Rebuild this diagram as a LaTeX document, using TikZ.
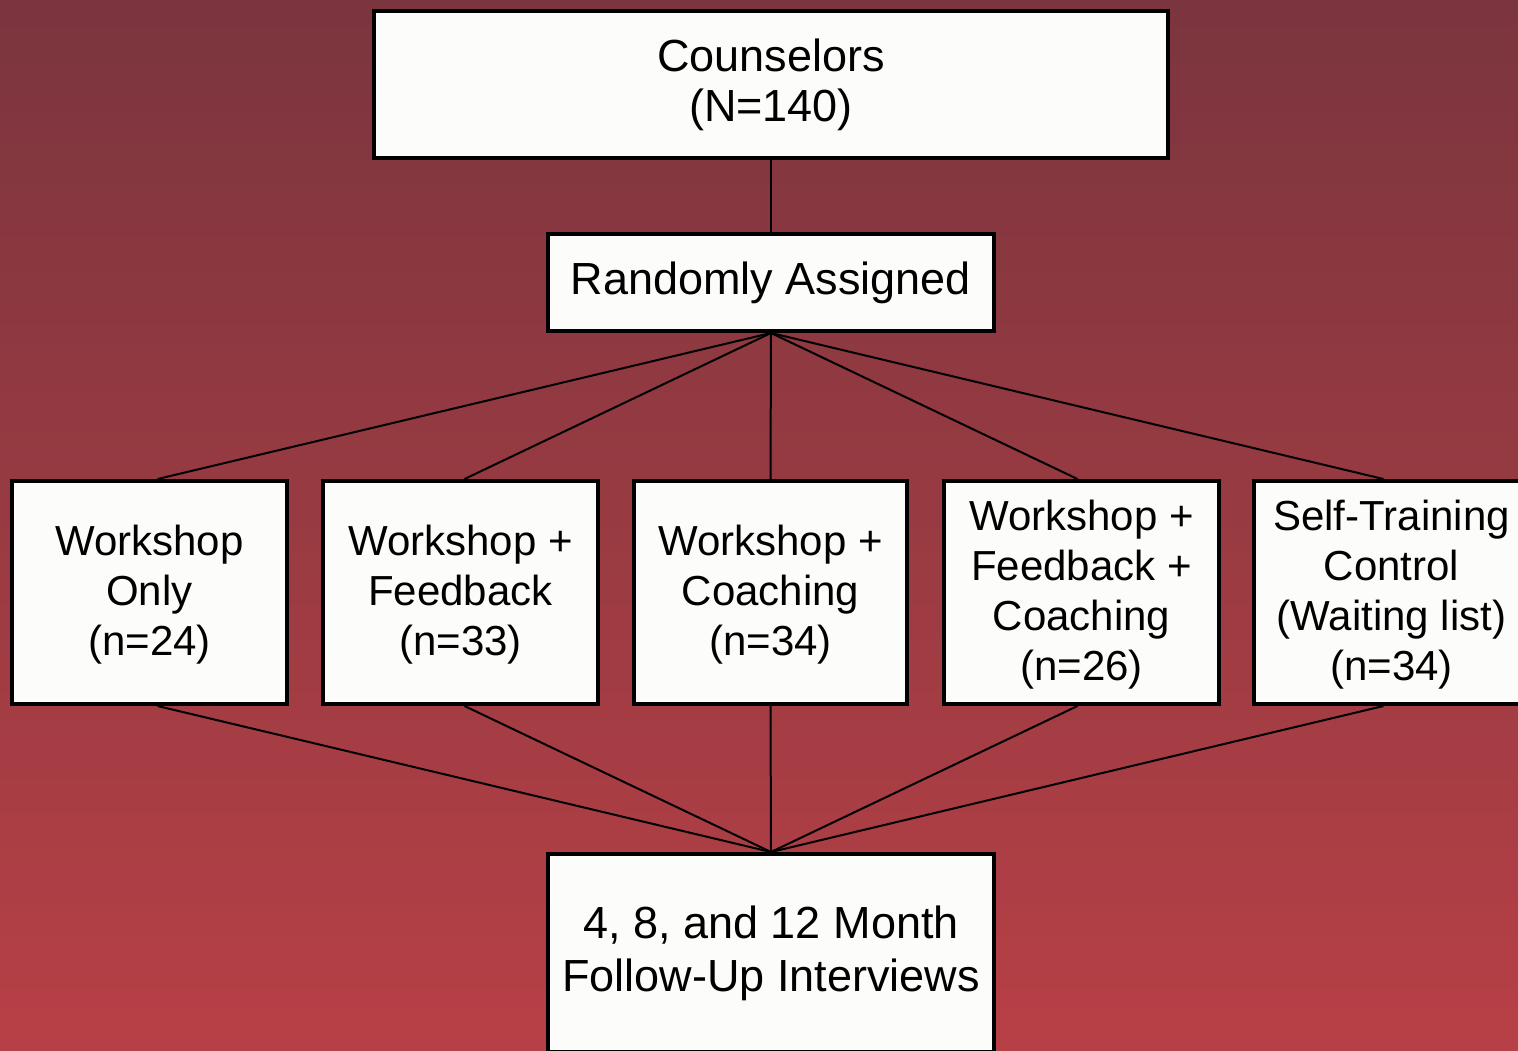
\documentclass[tikz,border=0pt]{standalone}
\usepackage{fontspec}
\setmainfont{Liberation Sans}
\usetikzlibrary{calc}
\definecolor{bgtop}{RGB}{123,53,62}
\definecolor{bgbot}{RGB}{183,64,70}
\definecolor{boxfill}{RGB}{252,252,250}
\newcommand{\firstup}{\rule{0pt}{35pt}}
\tikzset{
  box/.style={draw=black, line width=4pt, fill=boxfill, rectangle, inner sep=0pt,
    align=center, font=\fontsize{42pt}{50pt}\selectfont},
  bigbox/.style={box, font=\fontsize{45pt}{50pt}\selectfont},
  fubox/.style={box, font=\fontsize{45pt}{53pt}\selectfont},
  rowbox/.style={box, minimum width=275pt, minimum height=223pt},
  link/.style={draw=black, line width=2pt}
}
\begin{document}
\begin{tikzpicture}[x=1pt,y=-1pt]
\useasboundingbox (0,0) rectangle (1518,1050);
\clip (0,0) rectangle (1518,1050);
\shade[top color=bgtop, bottom color=bgbot] (0,0) rectangle (1518,1050);
\node[bigbox, minimum width=794pt, minimum height=147pt] (top) at (771,84.5) {Counselors\\(N=140)};
\node[bigbox, minimum width=446pt, minimum height=97pt] (rand) at (771,282.5) {Randomly Assigned};
\node[rowbox] (b1) at (149.5,592.5) {\firstup Workshop\\Only\\(n=24)};
\node[rowbox] (b2) at (460.5,592.5) {\firstup Workshop +\\Feedback\\(n=33)};
\node[rowbox, minimum width=273pt] (b3) at (770.5,592.5) {\firstup Workshop +\\Coaching\\(n=34)};
\node[rowbox] (b4) at (1081.5,592.5) {\firstup Workshop +\\Feedback +\\Coaching\\(n=26)};
\node[rowbox] (b5) at (1391.5,592.5) {\firstup Self-Training\\Control\\(Waiting list)\\(n=34)};
\node[fubox, minimum width=446pt, minimum height=198pt] (fu) at (771,953) {4, 8, and 12 Month\\Follow-Up Interviews};
\draw[link] (top.south) -- (rand.north);
\foreach \b in {b1,b2,b3,b4,b5}{
  \draw[link] (rand.south) -- ($(\b.north)!0.013!(b3.north)$);
  \draw[link] ($(\b.south)!0.013!(b3.south)$) -- (fu.north);
}
\end{tikzpicture}
\end{document}
